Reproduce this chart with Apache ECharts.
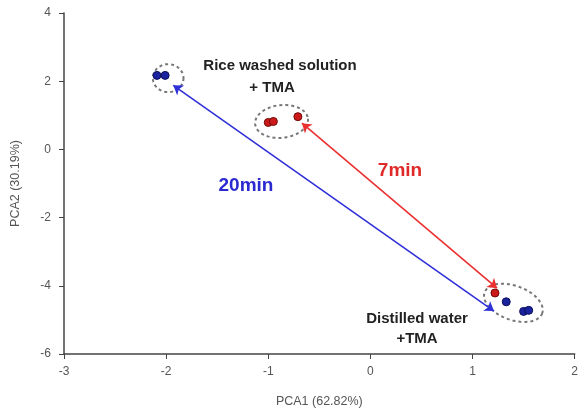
<!DOCTYPE html>
<html>
<head>
<meta charset="utf-8">
<script src="https://cdn.jsdelivr.net/npm/echarts@6/dist/echarts.min.js"></script>
<style>html,body{margin:0;padding:0;background:#fff}#c{width:581px;height:414px}</style>
</head>
<body>
<div id="c"></div>
<script>
// Scores (PCA1, PCA2)
const riceBlue = [[-2.09, 2.17], [-2.01, 2.17]];
const riceRed = [[-1.00, 0.79], [-0.95, 0.82], [-0.71, 0.96]];
const waterRed = [[1.22, -4.21]];
const waterBlue = [[1.33, -4.47], [1.50, -4.75], [1.55, -4.72]];
// Group ellipses: [centerX, centerY, radiusX, radiusY, tiltDeg]
const groupEllipses = [
  [-1.98, 2.09, 0.15, 0.41, 0],
  [-0.87, 0.82, 0.26, 0.48, -6],
  [1.40, -4.50, 0.30, 0.50, 20]
];
// Arrows: [x1, y1, x2, y2]
const arrow20 = [-1.93, 1.88, 1.21, -4.74];
const arrow7 = [-0.67, 0.77, 1.24, -4.07];
const xTicks = [-3, -2, -1, 0, 1, 2];
const yTicks = [-6, -4, -2, 0, 2, 4];

const chart = echarts.init(document.getElementById('c'));
const axisGray = '#444';
const labelGray = '#555';
const font = 'Liberation Sans, Arial, sans-serif';

function ellipseItem(params, api) {
  const c = api.coord([api.value(0), api.value(1)]);
  const s = api.size([api.value(2), api.value(3)]);
  const a = api.value(4) * Math.PI / 180;
  const pts = [];
  for (let i = 0; i < 72; i++) {
    const t = i / 72 * Math.PI * 2;
    const ex = s[0] * Math.cos(t), ey = s[1] * Math.sin(t);
    pts.push([c[0] + ex * Math.cos(a) - ey * Math.sin(a), c[1] + ex * Math.sin(a) + ey * Math.cos(a)]);
  }
  return {
    type: 'polygon',
    shape: { points: pts },
    style: { fill: 'none', stroke: '#777', lineWidth: 2, lineDash: [3, 3] }
  };
}

const pointStyle = (col, border) => ({ color: col, borderColor: border, borderWidth: 1, opacity: 1 });

chart.setOption({
  animation: false,
  grid: { left: 64, right: 3, top: 13, bottom: 60 },
  xAxis: {
    type: 'value', min: xTicks[0], max: xTicks[xTicks.length - 1], interval: 1,
    name: 'PCA1 (62.82%)', nameLocation: 'middle', nameGap: 41,
    nameTextStyle: { color: labelGray, fontSize: 12.5, fontFamily: font },
    axisLine: { show: true, onZero: false, lineStyle: { color: axisGray, width: 1.5 } },
    axisTick: { show: true, length: 5, lineStyle: { color: axisGray } },
    axisLabel: { color: labelGray, fontSize: 12, fontFamily: font, margin: 12 },
    splitLine: { show: false }
  },
  yAxis: {
    type: 'value', min: yTicks[0], max: yTicks[yTicks.length - 1], interval: 2,
    name: 'PCA2 (30.19%)', nameLocation: 'middle', nameGap: 42,
    nameTextStyle: { color: labelGray, fontSize: 12.5, fontFamily: font },
    axisLine: { show: true, onZero: false, lineStyle: { color: axisGray, width: 1.5 } },
    axisTick: { show: true, length: 5, lineStyle: { color: axisGray } },
    axisLabel: { color: labelGray, fontSize: 12, fontFamily: font, margin: 13 },
    splitLine: { show: false }
  },
  series: [
    { type: 'custom', renderItem: ellipseItem, data: groupEllipses, encode: { x: 0, y: 1 }, z: 1, silent: true },
    { type: 'lines', coordinateSystem: 'cartesian2d', z: 2, symbol: ['arrow', 'arrow'], symbolSize: 9,
      lineStyle: { color: '#3030d8', width: 1.6, opacity: 1 },
      data: [{ coords: [[arrow20[0], arrow20[1]], [arrow20[2], arrow20[3]]] }] },
    { type: 'lines', coordinateSystem: 'cartesian2d', z: 2, symbol: ['arrow', 'arrow'], symbolSize: 9,
      lineStyle: { color: '#ea3030', width: 1.6, opacity: 1 },
      data: [{ coords: [[arrow7[0], arrow7[1]], [arrow7[2], arrow7[3]]] }] },
    { type: 'scatter', data: riceBlue, symbolSize: 8, itemStyle: pointStyle('#1a22a0', '#0a0e55'), z: 3 },
    { type: 'scatter', data: waterBlue, symbolSize: 8, itemStyle: pointStyle('#1a22a0', '#0a0e55'), z: 3 },
    { type: 'scatter', data: riceRed, symbolSize: 8, itemStyle: pointStyle('#cc1a1a', '#700808'), z: 3 },
    { type: 'scatter', data: waterRed, symbolSize: 8, itemStyle: pointStyle('#cc1a1a', '#700808'), z: 3 }
  ],
  graphic: [
    { type: 'text', x: 280, y: 66, style: { text: 'Rice washed solution', fill: '#222', font: 'bold 15px ' + font, align: 'center', verticalAlign: 'middle' } },
    { type: 'text', x: 272, y: 88, style: { text: '+ TMA', fill: '#222', font: 'bold 15px ' + font, align: 'center', verticalAlign: 'middle' } },
    { type: 'text', x: 417, y: 319, style: { text: 'Distilled water', fill: '#222', font: 'bold 15px ' + font, align: 'center', verticalAlign: 'middle' } },
    { type: 'text', x: 417, y: 339, style: { text: '+TMA', fill: '#222', font: 'bold 15px ' + font, align: 'center', verticalAlign: 'middle' } },
    { type: 'text', x: 246, y: 186, style: { text: '20min', fill: '#2a2ad0', font: 'bold 19px ' + font, align: 'center', verticalAlign: 'middle' } },
    { type: 'text', x: 400, y: 171, style: { text: '7min', fill: '#e02a2a', font: 'bold 19px ' + font, align: 'center', verticalAlign: 'middle' } }
  ]
});
</script>
</body>
</html>
